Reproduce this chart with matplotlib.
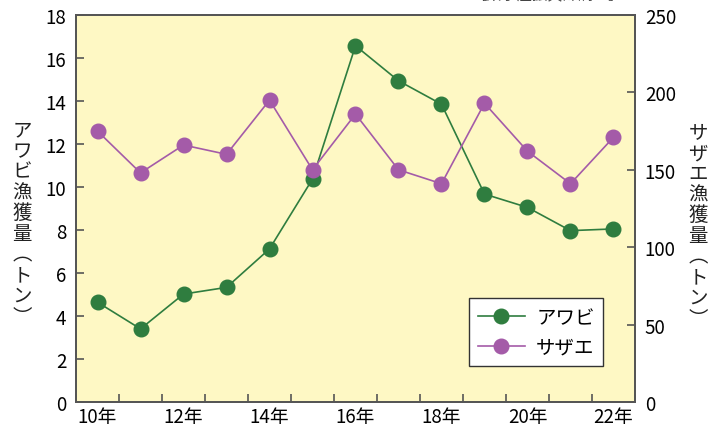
import matplotlib.pyplot as plt
from matplotlib.ticker import MultipleLocator

plt.rcParams['font.family'] = ['Noto Sans CJK JP', 'DejaVu Sans']

years = [10, 11, 12, 13, 14, 15, 16, 17, 18, 19, 20, 21, 22]
awabi = [4.64, 3.40, 5.02, 5.33, 7.12, 10.37, 16.57, 14.94, 13.85, 9.67, 9.05, 7.97, 8.05]
sazae = [175, 148, 166, 160, 195, 150, 186, 150, 141, 193, 162, 141, 171]
year_ticks = [10, 12, 14, 16, 18, 20, 22]
year_labels = ['%d年' % y for y in year_ticks]

green = '#2f7d3f'
purple = '#a45ba8'
spine_col = '#555555'
bg_col = '#fef8c4'

fig = plt.figure(figsize=(7.11, 4.35), dpi=100)
rect = [0.1069, 0.0736, 0.7862, 0.8896]

# yellow plot area sits behind both axes
bg = fig.add_axes(rect, zorder=-1)
bg.set_facecolor(bg_col)
bg.set_xticks([])
bg.set_yticks([])
for s in bg.spines.values():
    s.set_visible(False)

ax = fig.add_axes(rect)
ax2 = ax.twinx()
ax.patch.set_visible(False)
ax2.patch.set_visible(False)

l1, = ax.plot(years, awabi, color=green, lw=1.2, marker='o', ms=10.5, label='アワビ', zorder=3)
l2, = ax2.plot(years, sazae, color=purple, lw=1.2, marker='o', ms=10.5, label='サザエ', zorder=3)

ax.set_xlim(9.5, 22.5)
ax.set_ylim(0, 18)
ax2.set_ylim(0, 250)
ax.set_xticks(year_ticks)
ax.set_xticklabels(year_labels)
ax.xaxis.set_minor_locator(MultipleLocator(1, offset=0.5))
ax.set_yticks(range(0, 19, 2))
ax2.set_yticks(range(0, 251, 50))

for a in (ax, ax2):
    for s in a.spines.values():
        s.set_color(spine_col)
        s.set_linewidth(1.3)

ax.tick_params(axis='x', which='major', length=0, labelsize=13.5, pad=3)
ax.tick_params(axis='x', which='minor', direction='in', length=6, width=1.2, color=spine_col)
ax.tick_params(axis='y', direction='in', length=6, width=1.2, color=spine_col, labelsize=13.5, pad=7)
ax2.tick_params(axis='y', direction='in', length=6, width=1.2, color=spine_col, labelsize=13.5, pad=7)

# vertical Japanese axis titles
fig.text(0.031, 0.485, '\n'.join('アワビ漁獲量︵トン︶'), ha='center', va='center',
         fontsize=14, linespacing=0.98, color='#222222')
fig.text(0.982, 0.48, '\n'.join('サザエ漁獲量︵トン︶'), ha='center', va='center',
         fontsize=14, linespacing=0.98, color='#222222')

fig.text(0.77, 1.012, '［県水産振興課調べ］', ha='center', va='center',
         fontsize=11, color='#444444')

leg = ax2.legend(handles=[l1, l2], loc='lower right', bbox_to_anchor=(0.961, 0.067),
                 fontsize=14, fancybox=False, edgecolor='#333333', framealpha=1,
                 handlelength=2.4, borderpad=0.45, labelspacing=0.45, handletextpad=0.6)
leg.get_frame().set_linewidth(1.0)

fig.savefig('out.png', dpi=100)
